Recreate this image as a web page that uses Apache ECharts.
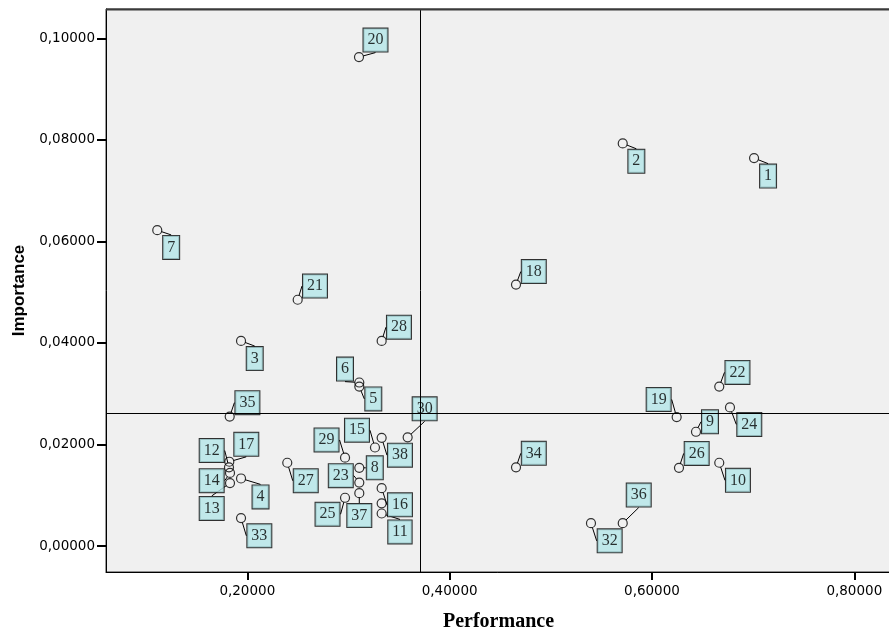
<!DOCTYPE html>
<html>
<head>
<meta charset="utf-8">
<script src="https://cdn.jsdelivr.net/npm/echarts@6/dist/echarts.min.js"></script>
<style>html,body{margin:0;padding:0;background:#fff;}#c{width:889px;height:630px;}</style>
</head>
<body>
<div id="c"></div>
<script>
// ---- data ----
const ids  = [1,2,3,4,5,6,7,8,9,10,11,12,13,14,15,16,17,18,19,20,21,22,23,24,25,26,27,28,29,30,31,32,33,34,35,36,37,38];
const performance = [0.7009,0.5711,0.1938,0.1938,0.3107,0.3107,0.1110,0.3107,0.6435,0.6665,
                     0.3328,0.1819,0.1829,0.1829,0.3262,0.3328,0.1822,0.4656,0.6244,0.3104,
                     0.2498,0.6665,0.3107,0.6771,0.2966,0.6267,0.2395,0.3328,0.2966,0.3585,
                     0.3328,0.5397,0.1938,0.4656,0.1826,0.5711,0.3107,0.3328];
const importance  = [0.0764,0.0793,0.0404,0.0133,0.0314,0.0322,0.0622,0.0154,0.0225,0.0164,
                     0.0064,0.0155,0.0124,0.0144,0.0194,0.0114,0.0166,0.0515,0.0254,0.0963,
                     0.0485,0.0314,0.0125,0.0273,0.0095,0.0154,0.0164,0.0404,0.0174,0.0214,
                     0.0084,0.0045,0.0055,0.0155,0.0255,0.0045,0.0104,0.0213];
const refPerformance = 0.3714;
const refImportance = 0.0261;
const xTicks = [0.2,0.4,0.6,0.8];
const yTicks = [0,0.02,0.04,0.06,0.08,0.10];

// ---- label placement (style) ----
const labelOffsets = [[14,18],[13.6,17.9],[13.7,17.7],[19.5,18.4],[14,12.3],[-14.3,-13.4],[13.9,17.2],[15.5,0],[14,-10],[18.7,17.6],
  [18.3,18.4],[-17.3,-16.8],[-18.3,25.4],[-18.3,7.8],[-18,-17.3],[18.3,16.7],[17,-17.4],[17.8,-13],[-18,-17.6],[16.5,-17],
  [17.3,-13.7],[18.2,-14.2],[-18.5,-6.9],[19.3,17],[-17.5,16.5],[17.7,-14.4],[18.5,18],[17.3,-13.7],[-18.5,-17.7],[17,-28.5],
  [0,0],[18.7,17.7],[18.3,17.7],[17.8,-14],[17.7,-13.9],[16,-28.1],[0,22.4],[18.3,17.3]];
const hiddenLabels = [31];

const fmt = v => v.toFixed(5).replace('.', ',');
const points = ids.map((id, i) => ({
  value: [performance[i], importance[i], id],
  label: { show: hiddenLabels.indexOf(id) < 0 }
}));

const chart = echarts.init(document.getElementById('c'), null, {renderer: 'canvas'});
chart.setOption({
  animation: false,
  backgroundColor: '#ffffff',
  grid: {
    left: 106, top: 9, right: -2, bottom: 58,
    containLabel: false, outerBoundsMode: 'none',
    show: true, backgroundColor: '#f0f0f0', borderColor: '#333', borderWidth: 1
  },
  xAxis: {
    type: 'value', min: 0.06033, max: 0.83626,
    name: 'Performance', nameLocation: 'middle', nameGap: 40,
    nameTextStyle: { fontFamily: 'Liberation Serif', fontWeight: 'bold', fontSize: 20, color: '#000' },
    splitLine: { show: false },
    axisLine: { show: true, onZero: false, lineStyle: { color: '#000', width: 1 } },
    axisTick: { show: true, length: 8, customValues: xTicks, lineStyle: { color: '#000', width: 2 } },
    axisLabel: { customValues: xTicks, formatter: fmt, margin: 12, fontFamily: 'DejaVu Sans', fontSize: 13.5, color: '#000' }
  },
  yAxis: {
    type: 'value', min: -0.00512, max: 0.10577,
    name: 'Importance', nameLocation: 'middle', nameGap: 78,
    nameTextStyle: { fontFamily: 'Liberation Sans', fontWeight: 'bold', fontSize: 17, color: '#000' },
    splitLine: { show: false },
    axisLine: { show: true, onZero: false, lineStyle: { color: '#000', width: 1 } },
    axisTick: { show: true, length: 9, customValues: yTicks, lineStyle: { color: '#000', width: 2 } },
    axisLabel: { customValues: yTicks, formatter: fmt, margin: 11, fontFamily: 'DejaVu Sans', fontSize: 13.5, color: '#000' }
  },
  graphic: [{
    type: 'line', z: 10, silent: true,
    shape: { x1: 106, y1: 9.5, x2: 889, y2: 9.5 },
    style: { stroke: '#3a3a3a', lineWidth: 2 }
  }],
  series: [{
    type: 'scatter',
    data: points,
    symbol: 'circle',
    symbolSize: 9,
    itemStyle: { color: 'rgba(0,0,0,0)', borderColor: '#000', borderWidth: 1.2 },
    label: {
      show: true, position: 'inside',
      formatter: p => String(p.value[2]),
      fontFamily: 'Liberation Serif', fontSize: 16, lineHeight: 16, color: '#000',
      backgroundColor: '#b4e6e8', borderColor: '#000', borderWidth: 1,
      padding: [4, 4, 3, 4]
    },
    labelLine: { show: true, lineStyle: { color: '#000', width: 1 } },
    labelLayout: p => ({ dx: labelOffsets[p.dataIndex][0], dy: labelOffsets[p.dataIndex][1] }),
    markLine: {
      silent: true, symbol: 'none', animation: false, precision: 6,
      label: { show: false },
      lineStyle: { color: '#000', width: 1, type: 'solid' },
      data: [{ xAxis: refPerformance }, { yAxis: refImportance }]
    },
    z: 3
  }]
});
</script>
</body>
</html>
